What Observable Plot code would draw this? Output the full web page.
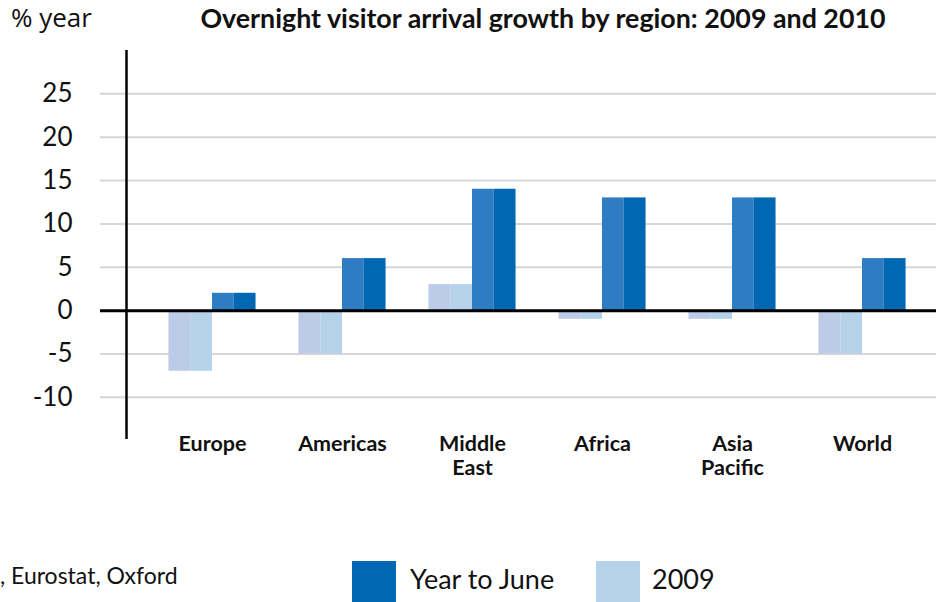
<!DOCTYPE html>
<html>
<head>
<meta charset="utf-8">
<script src="https://cdn.jsdelivr.net/npm/d3@7"></script>
<script src="https://cdn.jsdelivr.net/npm/@observablehq/plot@0.6"></script>
<style>
  html, body { margin: 0; padding: 0; background: #fff; }
  #wrap { position: relative; width: 936px; height: 602px; overflow: hidden; font-family: Lato, "Open Sans", sans-serif; color: #111; }
  #wrap > * { position: absolute; }
  .t { white-space: nowrap; }
</style>
</head>
<body>
<div id="wrap">
  <div id="chart" style="left:0;top:0"></div>
  <div class="t" style="left:11px;top:0px;font-family:'Open Sans',sans-serif;font-size:26px;line-height:35px;">% year</div>
  <div class="t" style="left:543px;top:3px;transform:translateX(-50%);font-size:26.8px;line-height:31px;font-weight:700;">Overnight visitor arrival growth by region: 2009 and 2010</div>
  <div class="t" style="left:0;top:561px;font-size:23px;line-height:28px;">, Eurostat, Oxford</div>
  <div style="left:352px;top:561px;width:44px;height:44px;background:#0068b3"></div>
  <div class="t" style="left:410px;top:563px;font-size:27px;line-height:32px;">Year to June</div>
  <div style="left:596px;top:561px;width:44px;height:44px;background:#b4d2ea"></div>
  <div class="t" style="left:652px;top:563px;font-size:27px;line-height:32px;">2009</div>
</div>
<script>
// ---- data ----
const regions = ["Europe", "Americas", "Middle\nEast", "Africa", "Asia\nPacific", "World"];
const growth2009 = [-7, -5, 3, -1, -1, -5];
const yearToJune = [2, 6, 14, 13, 13, 6];
const yTicks = [-10, -5, 0, 5, 10, 15, 20, 25];

// ---- layout constants (in data units) ----
const xDomain = [-0.8615, 5.5692];   // group index space
const yDomain = [-14.86, 30];
const yAxisAt = -0.6615;             // where the vertical axis line sits
const barW = 0.335;                  // width of one series bar in group units
const half = barW / 2;

// each bar is drawn as two shaded halves
const parts = ["2009 L", "2009 R", "YTJ L", "YTJ R"];
const partColors = ["#bccbe8", "#b4d2ea", "#2e7dc2", "#0068b3"];

const rects = [];
regions.forEach((r, i) => {
  rects.push({x1: i - barW, x2: i - half, y: growth2009[i], part: parts[0]});
  rects.push({x1: i - half, x2: i, y: growth2009[i], part: parts[1]});
  rects.push({x1: i, x2: i + half, y: yearToJune[i], part: parts[2]});
  rects.push({x1: i + half, x2: i + barW, y: yearToJune[i], part: parts[3]});
});

const chart = Plot.plot({
  width: 936,
  height: 540,
  marginTop: 50,
  marginBottom: 101,
  marginLeft: 100,
  marginRight: 0,
  style: {fontFamily: "Lato, 'Open Sans', sans-serif", color: "#111", background: "transparent"},
  x: {type: "linear", domain: xDomain, axis: null, label: null},
  y: {domain: yDomain, axis: null, label: null},
  color: {domain: parts, range: partColors},
  marks: [
    Plot.ruleY(yTicks.filter(d => d !== 0), {stroke: "#d6d6d6", strokeWidth: 2}),
    Plot.axisY(yTicks, {label: null, tickSize: 0, tickPadding: 28, fontSize: 26, tickFormat: d => String(d)}),
    Plot.rectY(rects, {x1: "x1", x2: "x2", y: "y", fill: "part"}),
    Plot.ruleY([0], {stroke: "#000", strokeWidth: 3}),
    Plot.ruleX([yAxisAt], {stroke: "#000", strokeWidth: 2.5}),
    Plot.text(regions, {x: (d, i) => i, text: d => d, frameAnchor: "bottom", lineAnchor: "top", dy: -6, fontSize: 21.5, fontWeight: 700, lineHeight: 1.12, fill: "#111"})
  ]
});
document.getElementById("chart").appendChild(chart);
</script>
</body>
</html>
